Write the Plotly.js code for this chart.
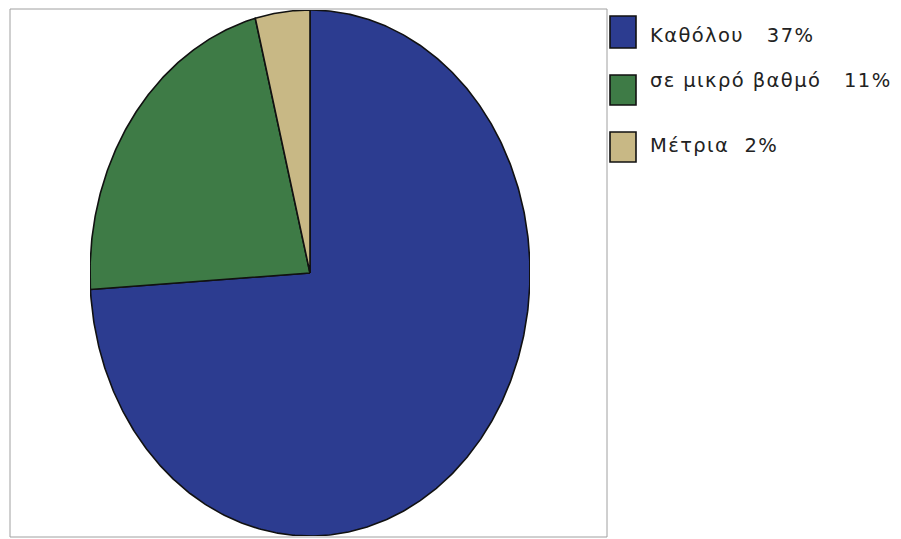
<!DOCTYPE html>
<html>
<head>
<meta charset="utf-8">
<script src="https://cdn.plot.ly/plotly-3.0.1.min.js"></script>
<style>
  html, body { margin: 0; padding: 0; background: #ffffff; }
  #chart { width: 901px; height: 539px; }
  .annotation-text { letter-spacing: 1.4px; }
</style>
</head>
<body>
<div id="chart"></div>
<script>
// Survey answers and their shares
const categories = ['Καθόλου', 'σε μικρό βαθμό', 'Μέτρια'];
const percents = [37, 11, 2];
const colors = ['#2c3c90', '#3e7b46', '#c8b885'];

// Legend layout (pixel positions of each row)
const W = 901, H = 539;
const legendRows = [
  { boxTop: 16, boxBottom: 48, textY: 35, gap: 2 },
  { boxTop: 75, boxBottom: 105, textY: 80, gap: 2 },
  { boxTop: 132, boxBottom: 162, textY: 145, gap: 1 }
];

// Build slices on a unit circle; the unequal axis spans stretch it into an ellipse
const total = percents.reduce((a, b) => a + b, 0);
const traces = [];
let start = 0;
percents.forEach((v, i) => {
  const span = v / total * 2 * Math.PI;
  const end = start + span;
  const xs = [0], ys = [0];
  const steps = Math.max(4, Math.ceil(span / (Math.PI / 360)));
  for (let k = 0; k <= steps; k++) {
    const a = start + span * k / steps;
    xs.push(Math.sin(a));
    ys.push(Math.cos(a));
  }
  xs.push(0); ys.push(0);
  traces.push({
    type: 'scatter', mode: 'lines', x: xs, y: ys,
    fill: 'toself', fillcolor: colors[i],
    line: { color: '#111111', width: 1.6 },
    hoverinfo: 'skip', showlegend: false
  });
  start = end;
});

const px = x => x / W;
const py = y => 1 - y / H;

const shapes = [
  // chart frame
  { type: 'rect', xref: 'paper', yref: 'paper',
    x0: px(10), x1: px(607), y0: py(537), y1: py(9),
    line: { color: '#a0a0a0', width: 1 }, fillcolor: 'rgba(0,0,0,0)', layer: 'below' }
];
const annotations = [];
categories.forEach((c, i) => {
  const r = legendRows[i];
  shapes.push({
    type: 'rect', xref: 'paper', yref: 'paper',
    x0: px(610), x1: px(636), y0: py(r.boxBottom), y1: py(r.boxTop),
    fillcolor: colors[i], line: { color: '#111111', width: 1.6 }
  });
  annotations.push({
    xref: 'paper', yref: 'paper', x: px(648), y: py(r.textY),
    xanchor: 'left', yanchor: 'middle', showarrow: false,
    text: c + '\u00a0'.repeat(r.gap + 1) + percents[i] + '%',
    font: { family: 'DejaVu Sans, Verdana, sans-serif', size: 19.5, color: '#222222' }
  });
});

const layout = {
  width: W, height: H,
  margin: { l: 0, r: 0, t: 0, b: 0 },
  paper_bgcolor: '#ffffff', plot_bgcolor: 'rgba(0,0,0,0)',
  xaxis: { domain: [90 / W, 530 / W], range: [-1, 1], visible: false, fixedrange: true },
  yaxis: { domain: [1 - 536 / H, 1 - 10 / H], range: [-1, 1], visible: false, fixedrange: true },
  shapes: shapes,
  annotations: annotations,
  showlegend: false,
  hovermode: false
};

Plotly.newPlot('chart', traces, layout, { displayModeBar: false, staticPlot: true });
</script>
</body>
</html>
